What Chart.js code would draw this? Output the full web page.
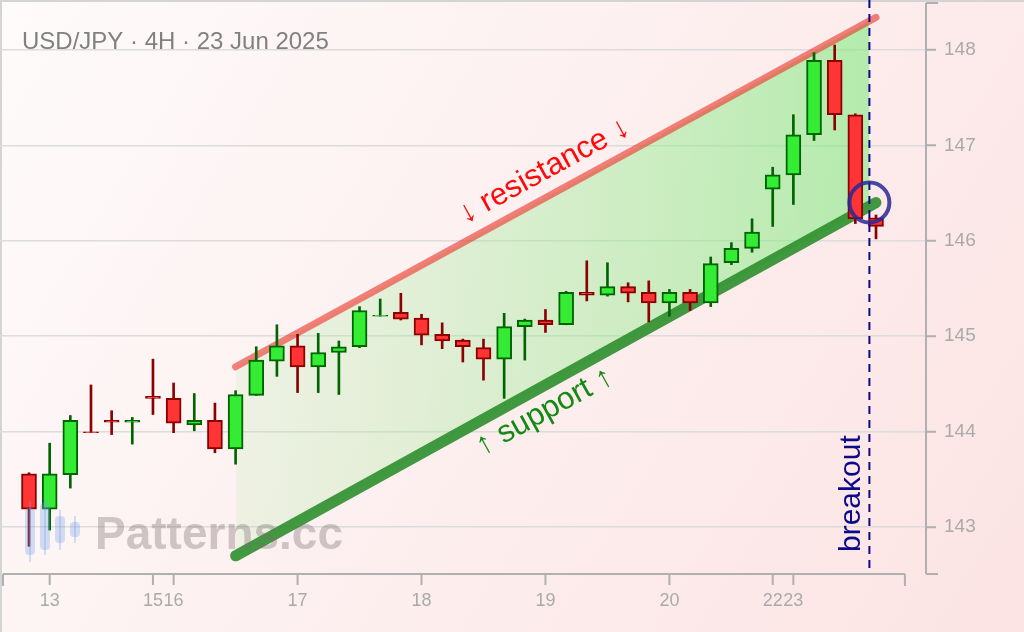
<!DOCTYPE html>
<html>
<head>
<meta charset="utf-8">
<script src="https://cdn.jsdelivr.net/npm/chart.js@4.4.1/dist/chart.umd.min.js"></script>
<style>
  html, body { margin: 0; padding: 0; background: #fff; }
  #wrap { width: 1024px; height: 632px; }
</style>
</head>
<body>
<div id="wrap"><canvas id="usdjpy" width="1024" height="632"></canvas></div>
<script>
// USD/JPY 4H candles, 12-23 Jun 2025
var opens  = [143.56, 143.19, 143.55, 144.00, 144.12, 144.10, 144.37, 144.35, 144.07, 144.12,
              143.82, 144.38, 144.74, 144.90, 144.68, 144.83, 144.89, 145.21, 145.25, 145.19,
              145.02, 144.96, 144.88, 144.76, 145.10, 145.17, 145.12, 145.46, 145.43, 145.52,
              145.46, 145.35, 145.46, 145.35, 145.77, 145.92, 146.54, 146.69, 147.11, 147.89,
              147.32, 146.24];
var highs  = [143.57, 143.88, 144.17, 144.49, 144.22, 144.15, 144.76, 144.51, 144.40, 144.30,
              144.43, 144.89, 145.12, 145.02, 145.03, 144.95, 145.31, 145.39, 145.45, 145.23,
              145.14, 144.97, 144.97, 145.24, 145.18, 145.28, 145.47, 145.79, 145.77, 145.56,
              145.58, 145.49, 145.49, 145.83, 145.98, 146.23, 146.77, 147.32, 147.97, 148.05,
              147.33, 146.27];
var lows   = [142.80, 142.97, 143.41, 143.99, 143.97, 143.87, 144.18, 143.99, 144.01, 143.78,
              143.66, 144.38, 144.58, 144.41, 144.41, 144.39, 144.88, 145.21, 145.17, 144.91,
              144.87, 144.73, 144.54, 144.35, 144.75, 145.04, 145.12, 145.37, 145.42, 145.36,
              145.15, 145.21, 145.27, 145.31, 145.75, 145.88, 146.15, 146.38, 147.05, 147.16,
              146.18, 146.02];
var closes = [143.19, 143.56, 144.12, 143.99, 144.10, 144.12, 144.35, 144.09, 144.12, 143.82,
              144.39, 144.75, 144.90, 144.68, 144.83, 144.89, 145.27, 145.22, 145.18, 145.01,
              144.95, 144.89, 144.76, 145.10, 145.17, 145.12, 145.46, 145.43, 145.52, 145.45,
              145.35, 145.46, 145.35, 145.76, 145.92, 146.09, 146.69, 147.11, 147.89, 147.32,
              146.23, 146.15];

var tickIdx    = [1, 6, 7, 13, 19, 25, 31, 36, 37];
var tickLabels = ['13', '15', '16', '17', '18', '19', '20', '22', '23'];
var priceTicks = [143, 144, 145, 146, 147, 148];

// channel lines: candle index -> price
var chanX     = [10, 41];
var resistY   = [144.68, 148.34];
var supportY  = [142.70, 146.40];
var breakoutX = 40.68;
var breakoutY = 146.40;

var FONT = '"Liberation Sans", Arial, "DejaVu Sans", sans-serif';
Chart.defaults.font.family = FONT;

function chanAt(ys, x) {
    return ys[0] + (ys[1] - ys[0]) * (x - chanX[0]) / (chanX[1] - chanX[0]);
}

var idx = opens.map(function (o, i) { return i; });
var isUp = idx.map(function (i) { return closes[i] >= opens[i]; });
var edgeCol = isUp.map(function (u) { return u ? '#006400' : '#8b0000'; });
var bodyCol = isUp.map(function (u) { return u ? '#33ec33' : '#ff3434'; });

var wickData = idx.map(function (i) { return { x: i, y: [lows[i], highs[i]] }; });
var bodyData = idx.map(function (i) { return { x: i, y: [opens[i], closes[i]] }; });

var decor = {
    id: 'decor',
    beforeDraw: function (chart) {
        var c = chart.ctx;
        c.save();
        var g = c.createLinearGradient(0, 0, chart.width, chart.height);
        g.addColorStop(0, '#fefbfb');
        g.addColorStop(1, '#fce3e3');
        c.fillStyle = g;
        c.fillRect(0, 0, chart.width, chart.height);
        c.strokeStyle = '#d4d4d4';
        c.lineWidth = 2;
        c.beginPath();
        c.moveTo(1, chart.height); c.lineTo(1, 1); c.lineTo(chart.width, 1);
        c.stroke();
        c.restore();
    },
    afterDatasetsDraw: function (chart) {
        var c = chart.ctx, xs = chart.scales.x, ys = chart.scales.y, ca = chart.chartArea;
        c.save();

        // watermark
        c.fillStyle = 'rgba(110,160,235,0.3)';
        [[30, 508, 555, 501, 562], [45, 503, 550, 498, 555], [60, 516, 543, 510, 550], [75, 522, 537, 516, 543]].forEach(function (k) {
            c.fillRect(k[0] - 1, k[3], 2, k[4] - k[3]);
            c.beginPath();
            c.roundRect(k[0] - 5, k[1], 10, k[2] - k[1], 4);
            c.fill();
        });
        c.fillStyle = 'rgba(120,110,110,0.35)';
        c.font = 'bold 46px ' + FONT;
        c.textBaseline = 'alphabetic';
        c.fillText('Patterns.cc', 95, 549);

        // breakout marker
        var bx = xs.getPixelForValue(breakoutX);
        c.strokeStyle = '#0a0a8a';
        c.lineWidth = 2;
        c.setLineDash([8, 6]);
        c.beginPath();
        c.moveTo(bx, 0); c.lineTo(bx, ca.bottom);
        c.stroke();
        c.setLineDash([]);

        c.save();
        c.translate(bx - 9.5, 552);
        c.rotate(-Math.PI / 2);
        c.fillStyle = '#0a0a8a';
        c.font = '30px ' + FONT;
        c.textAlign = 'left';
        c.fillText('breakout', 0, 0);
        c.restore();

        c.strokeStyle = 'rgba(40,40,150,0.85)';
        c.lineWidth = 4;
        c.beginPath();
        c.arc(bx, ys.getPixelForValue(breakoutY), 20, 0, Math.PI * 2);
        c.stroke();

        // labels along the channel
        function along(yv, at, text, color, off) {
            var x0 = xs.getPixelForValue(chanX[0]), y0 = ys.getPixelForValue(yv[0]);
            var x1 = xs.getPixelForValue(chanX[1]), y1 = ys.getPixelForValue(yv[1]);
            var ang = Math.atan2(y1 - y0, x1 - x0);
            var mx = xs.getPixelForValue(at), my = ys.getPixelForValue(chanAt(yv, at));
            c.save();
            c.translate(mx, my);
            c.rotate(ang);
            c.fillStyle = color;
            c.font = '31px ' + FONT;
            c.textAlign = 'center';
            c.textBaseline = 'middle';
            c.fillText(text, 0, off);
            c.restore();
        }
        along(resistY, 25.5, '\u2193 resistance \u2193', '#ff0a0a', -24);
        along(supportY, 24.42, '\u2191 support \u2191', '#138a13', 23);

        // title
        c.fillStyle = '#808080';
        c.font = '24px ' + FONT;
        c.textAlign = 'left';
        c.textBaseline = 'alphabetic';
        c.fillText('USD/JPY \u00b7 4H \u00b7 23 Jun 2025', 22, 49);

        // spines and tick marks
        c.strokeStyle = '#b0b0b0';
        c.lineWidth = 2;
        c.beginPath();
        var xb = ca.bottom, xr = xs.getPixelForValue(42.4);
        c.moveTo(3, xb); c.lineTo(xr, xb);
        c.moveTo(3, xb); c.lineTo(3, xb + 12);
        c.moveTo(xr, xb); c.lineTo(xr, xb + 12);
        tickIdx.forEach(function (v) {
            var px = xs.getPixelForValue(v);
            c.moveTo(px, xb); c.lineTo(px, xb + 11);
        });
        var yl = ca.right;
        c.moveTo(yl, ca.top); c.lineTo(yl, ca.bottom);
        c.moveTo(yl, ca.top); c.lineTo(yl + 12, ca.top);
        c.moveTo(yl, ca.bottom); c.lineTo(yl + 12, ca.bottom);
        priceTicks.forEach(function (v) {
            var py = ys.getPixelForValue(v);
            c.moveTo(yl, py); c.lineTo(yl + 10, py);
        });
        c.stroke();
        c.restore();
    }
};

var chart = new Chart(document.getElementById('usdjpy').getContext('2d'), {
    type: 'bar',
    data: {
        datasets: [
            {
                type: 'line',
                data: [{ x: chanX[0], y: resistY[0] }, { x: breakoutX, y: chanAt(resistY, breakoutX) }],
                fill: '+1',
                borderColor: 'rgba(0,0,0,0)',
                pointRadius: 0,
                backgroundColor: function (ctx) {
                    var ch = ctx.chart;
                    if (!ch.chartArea) return 'rgba(0,0,0,0)';
                    var xs = ch.scales.x;
                    var g = ch.ctx.createLinearGradient(xs.getPixelForValue(chanX[0]), 0, xs.getPixelForValue(breakoutX), 0);
                    g.addColorStop(0, 'rgba(160,235,150,0.16)');
                    g.addColorStop(1, 'rgba(120,235,120,0.55)');
                    return g;
                },
                order: 6
            },
            {
                type: 'line',
                data: [{ x: chanX[0], y: supportY[0] }, { x: breakoutX, y: chanAt(supportY, breakoutX) }],
                fill: false,
                borderColor: 'rgba(0,0,0,0)',
                pointRadius: 0,
                order: 6
            },
            {
                type: 'line',
                data: [{ x: chanX[0], y: resistY[0] }, { x: chanX[1], y: resistY[1] }],
                borderColor: 'rgba(235,55,45,0.62)',
                borderWidth: 7,
                borderCapStyle: 'round',
                pointRadius: 0,
                fill: false,
                order: 5
            },
            {
                type: 'line',
                data: [{ x: chanX[0], y: supportY[0] }, { x: chanX[1], y: supportY[1] }],
                borderColor: 'rgba(40,140,40,0.88)',
                borderWidth: 11,
                borderCapStyle: 'round',
                pointRadius: 0,
                fill: false,
                order: 5
            },
            {
                data: wickData,
                backgroundColor: edgeCol,
                barThickness: 2,
                grouped: false,
                order: 3
            },
            {
                data: bodyData,
                backgroundColor: bodyCol,
                borderColor: edgeCol,
                borderWidth: 2,
                borderSkipped: false,
                barThickness: 15,
                grouped: false,
                order: 2
            }
        ]
    },
    options: {
        responsive: false,
        animation: false,
        devicePixelRatio: 1,
        layout: { autoPadding: false, padding: { left: 0, top: 3, right: 0, bottom: 0 } },
        plugins: { legend: { display: false }, tooltip: { enabled: false } },
        scales: {
            x: {
                type: 'linear',
                min: -1.404,
                max: 43.42,
                offset: false,
                grid: { display: false, drawTicks: false },
                border: { display: false },
                afterBuildTicks: function (s) { s.ticks = tickIdx.map(function (v) { return { value: v }; }); },
                afterFit: function (s) { s.height = 58; s.paddingLeft = 0; s.paddingRight = 0; },
                ticks: {
                    autoSkip: false,
                    maxRotation: 0,
                    padding: 16,
                    color: '#aaaaaa',
                    font: { size: 18 },
                    callback: function (v) { var k = tickIdx.indexOf(v); return k < 0 ? '' : tickLabels[k]; }
                }
            },
            y: {
                position: 'right',
                min: 142.51,
                max: 148.49,
                grid: { color: '#dcdcdc', lineWidth: 1.5, drawTicks: false },
                border: { display: false },
                afterBuildTicks: function (s) { s.ticks = priceTicks.map(function (v) { return { value: v }; }); },
                afterFit: function (s) { s.width = 98; s.paddingTop = 0; s.paddingBottom = 0; },
                ticks: { padding: 18, color: '#aaaaaa', font: { size: 19 } }
            }
        }
    },
    plugins: [decor]
});
</script>
</body>
</html>
